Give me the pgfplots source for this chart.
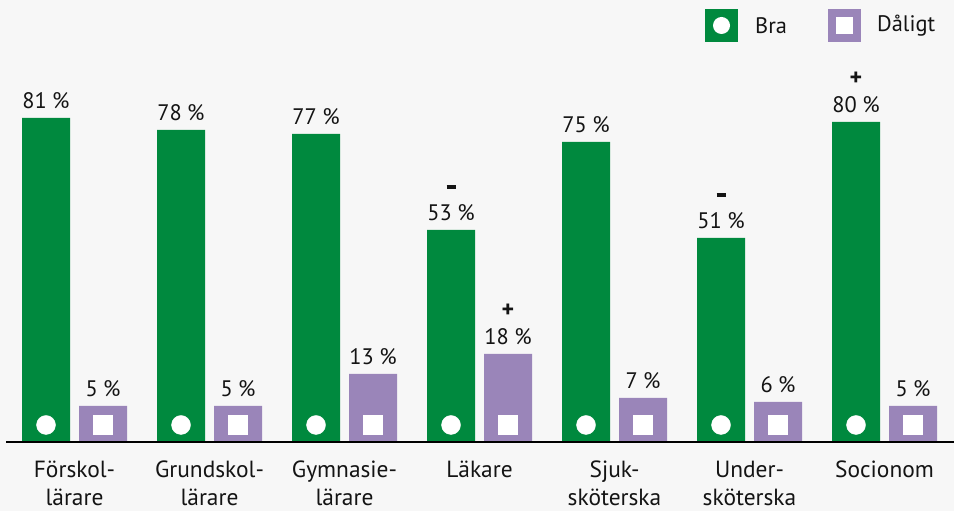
\documentclass[border=0pt]{standalone}
\usepackage{fontspec}
\setmainfont{PT Sans}
\usepackage{pgfplots}
\pgfplotsset{compat=1.18}
\definecolor{bg}{HTML}{F7F7F7}
\definecolor{grn}{HTML}{00893E}
\definecolor{pur}{HTML}{9A85B9}
\definecolor{txt}{HTML}{141414}
\begin{document}
\begin{tikzpicture}[x=1bp,y=1bp]
\fill[bg] (0,0) rectangle (954,511);
\useasboundingbox (0,0) rectangle (954,511);
\begin{axis}[
  at={(6bp,69bp)}, anchor=south west,
  scale only axis, width=948bp, height=442bp,
  xmin=6, xmax=954, ymin=0, ymax=110.5,
  axis line style={draw=none}, tick style={draw=none}, ytick=\empty,
  xtick={74.5,209.5,344.5,479.5,614.5,749.5,884.5},
  xticklabels={{Förskol-\\lärare},{Grundskol-\\lärare},{Gymnasie-\\lärare},{Läkare},{Sjuk-\\sköterska},{Under-\\sköterska},{Socionom}},
  xticklabel style={align=center, font=\fontsize{23.5}{28}\selectfont, text=txt, inner sep=0pt, yshift=-19bp},
  clip=false,
  enlargelimits=false,
]
\addplot[ybar, bar width=48bp, bar shift=0pt, fill=grn, draw=none,
  point meta=explicit symbolic,
  nodes near coords={\pgfplotspointmeta\kern0.24em\%},
  every node near coord/.style={anchor=base, inner sep=0pt, yshift=9bp, font=\fontsize{22.5}{26}\selectfont, text=txt}]
  coordinates {(46,81)[81] (181,78)[78] (316,77)[77] (451,53)[53] (586,75)[75] (721,51)[51] (856,80)[80]};
\addplot[ybar, bar width=48bp, bar shift=0pt, fill=pur, draw=none,
  point meta=explicit symbolic,
  nodes near coords={\pgfplotspointmeta\kern0.24em\%},
  every node near coord/.style={anchor=base, inner sep=0pt, yshift=9bp, font=\fontsize{22.5}{26}\selectfont, text=txt}]
  coordinates {(103,9)[5] (238,9)[5] (373,17)[13] (508,22)[18] (643,11)[7] (778,10)[6] (913,9)[5]};
\addplot[only marks, mark=*, mark size=9.5bp, draw=white, fill=white]
  coordinates {(46,4.25) (181,4.25) (316,4.25) (451,4.25) (586,4.25) (721,4.25) (856,4.25)};
\addplot[only marks, mark=square*, mark size=9.5bp, draw=white, fill=white]
  coordinates {(103,4.25) (238,4.25) (373,4.25) (508,4.25) (643,4.25) (778,4.25) (913,4.25)};
% plus signs
\addplot[draw=none, mark=none, point meta=explicit symbolic,
  nodes near coords={\pgfplotspointmeta},
  every node near coord/.style={anchor=center, inner sep=0pt, yshift=43.5bp, font=\fontsize{24}{26}\selectfont\bfseries, text=txt}]
  coordinates {(856,80)[+] (508,22)[+]};
% minus signs
\addplot[draw=none, mark=none,
  nodes near coords={\textcolor{txt}{\rule{9bp}{3.6bp}}},
  every node near coord/.style={anchor=center, inner sep=0pt, yshift=43bp}]
  coordinates {(451,53) (721,51)};
\draw[line width=2bp, black] (axis cs:6,0) -- (axis cs:954,0);
\end{axis}
% legend
\fill[grn] (705,469) rectangle (738,502);
\fill[white] (721.5,485.5) circle (8.5);
\node[anchor=west, inner sep=0pt, text=txt, font=\fontsize{22.5}{26}\selectfont] at (755,485.5) {Bra};
\fill[pur] (828,469) rectangle (861,502);
\fill[white] (836,477) rectangle (853,494);
\node[anchor=west, inner sep=0pt, text=txt, font=\fontsize{22.5}{26}\selectfont] at (877,485.5) {Dåligt};
\end{tikzpicture}
\end{document}
